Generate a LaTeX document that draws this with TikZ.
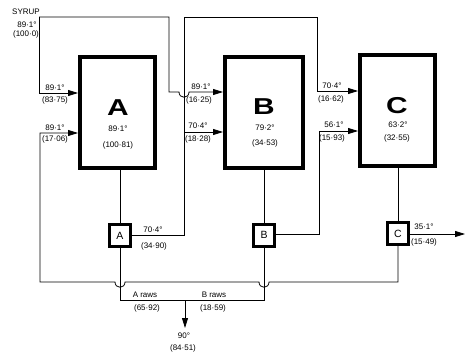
\documentclass[tikz,border=0pt]{standalone}
\usepackage{fontspec}
\usepackage{graphicx}
\setmainfont{Liberation Sans}
\usetikzlibrary{arrows.meta}
\begin{document}
\begin{tikzpicture}[x=1pt,y=-1pt,
  flow/.style={line width=0.8pt},
  arr/.style={flow,-{Triangle[length=10pt,width=6pt]}},
  bigbox/.style={draw,line width=4pt,inner sep=0pt,minimum height=111pt},
  smallbox/.style={draw,line width=3pt,inner sep=0pt,minimum width=21pt,minimum height=22pt,font=\fontsize{10.5}{10.5}\selectfont},
  lbl/.style={font=\fontsize{8}{8}\selectfont,inner sep=0pt},
  big/.style={font=\fontsize{23}{23}\selectfont\bfseries,inner sep=0pt}
]
\useasboundingbox (0,0) rectangle (466,353);

% big pans
\node[bigbox,minimum width=75pt] (bigA) at (117.5,112.5) {};
\node[bigbox,minimum width=78pt] (bigB) at (264,112.5) {};
\node[bigbox,minimum width=75pt] (bigC) at (397.5,110.5) {};

\node[big] (tA) at (118,108) {\scalebox{1.3}[1]{A}};
\node[lbl] (tA1) at (118,129) {89·1°};
\node[lbl] (tA2) at (118,145) {(100·81)};
\node[big] (tB) at (264,107) {\scalebox{1.3}[1]{B}};
\node[lbl] (tB1) at (265,128) {79·2°};
\node[lbl] (tB2) at (265,143) {(34·53)};
\node[big] (tC) at (397,106) {\scalebox{1.3}[1]{C}};
\node[lbl] (tC1) at (398,125) {63·2°};
\node[lbl] (tC2) at (397,138) {(32·55)};

% small boxes
\node[smallbox] (sA) at (120,235.5) {A};
\node[smallbox] (sB) at (264,235) {B};
\node[smallbox] (sC) at (398,233.5) {C};

% pan to centrifugal
\draw[flow] (bigA.south -| sA.north) -- (sA.north);
\draw[flow] (bigB.south -| sB.north) -- (sB.north);
\draw[flow] (bigC.south -| sC.north) -- (sC.north);

% syrup
\node[lbl] (syrup) at (26,12) {SYRUP};
\coordinate (syr) at (39,17);
\coordinate (s2) at (169,17);
\node[lbl] (l1) at (27,25) {89·1°};
\node[lbl] (l2) at (26,34) {(100·0)};
\draw[arr] (syr) -- (39,93) -- (bigA.west |- 0,93);
\node[lbl] (l3) at (55,88) {89·1°};
\node[lbl] (l4) at (55,100) {(83·75)};
\draw[arr] (syr) -- (s2) -- (169,92) -- (179,92) .. controls (179,99) and (189,99) .. (189,92) -- (bigB.west |- 0,92);
\node[lbl] (l5) at (201,87) {89·1°};
\node[lbl] (l6) at (199,100) {(16·25)};

% A pan output 70.4
\coordinate (aj) at (184,132);
\draw[arr] (sA.east |- 0,235) -- (184,235) -- (184,17) -- (317,17) -- (317,91) -- (bigC.west |- 0,91);
\draw[arr] (aj) -- (bigB.west |- aj);
\node[lbl] (l7) at (153,230) {70·4°};
\node[lbl] (l8) at (154,246) {(34·90)};
\node[lbl] (l9) at (198,126) {70·4°};
\node[lbl] (l10) at (198,139) {(18·28)};
\node[lbl] (l11) at (332,86) {70·4°};
\node[lbl] (l12) at (331,99) {(16·62)};

% B pan output 56.1
\draw[arr] (sB.east |- 0,234) -| (319,131) -- (bigC.west |- 0,131);
\node[lbl] (l13) at (334,125) {56·1°};
\node[lbl] (l14) at (332,138) {(15·93)};

% C pan outputs
\coordinate (cout) at (465,234);
\draw[arr] (sC.east |- cout) -- (cout);
\node[lbl] (l15) at (424,227) {35·1°};
\node[lbl] (l16) at (424,242) {(15·49)};
\draw[arr] (sC.south) -- (398,282) -- (269,282) .. controls (269,289) and (259,289) .. (259,282)
  -- (125,282) .. controls (125,289) and (115,289) .. (115,282) -- (40,282) -- (40,133) -- (bigA.west |- 0,133);
\node[lbl] (l17) at (55,128) {89·1°};
\node[lbl] (l18) at (55,139) {(17·06)};

% raws
\draw[flow] (sA.south) |- (sB.south |- 0,300) -- (sB.south);
\coordinate (rj) at (185,300);
\coordinate (rout) at (185,328);
\draw[arr] (rj) -- (rout);
\node[lbl] (l19) at (145,294.5) {A raws};
\node[lbl] (l20) at (147,308) {(65·92)};
\node[lbl] (l21) at (214,294.5) {B raws};
\node[lbl] (l22) at (213,308) {(18·59)};
\node[lbl] (l23) at (184,336) {90°};
\node[lbl] (l24) at (183,348) {(84·51)};
\end{tikzpicture}
\end{document}
